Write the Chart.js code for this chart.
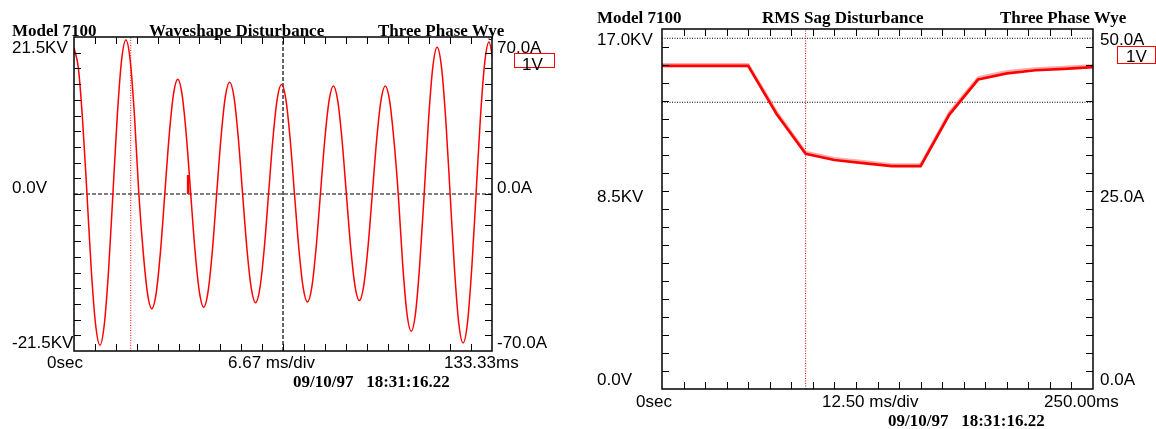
<!DOCTYPE html>
<html>
<head>
<meta charset="utf-8">
<script src="https://cdn.jsdelivr.net/npm/chart.js@4.4.0/dist/chart.umd.min.js"></script>
<style>
  html, body { margin: 0; padding: 0; background: #fff; }
  #page { position: relative; width: 1156px; height: 429px; overflow: hidden; }
  .pane { position: absolute; top: 0; }
  .t { position: absolute; white-space: pre; line-height: 18px; color: #000; }
  .hd { font: bold 17px "Liberation Serif", "Times New Roman", serif; }
  .lb { font: 17px "Liberation Sans", Arial, sans-serif; }
  .box { position: absolute; border: 1.5px solid #f00; box-sizing: border-box; }
</style>
</head>
<body>
<div id="page">
  <canvas id="wave" class="pane" width="578" height="429" style="left:0"></canvas>
  <canvas id="sag" class="pane" width="578" height="429" style="left:578px"></canvas>
  <div class="box" style="left:514px; top:53px; width:41px; height:15px"></div>
  <div class="box" style="left:1117px; top:46px; width:39px; height:18px"></div>
</div>
<script>
// ============================================================
// Model 7100 — waveshape + RMS sag disturbance plots
// ============================================================

// ---- waveshape disturbance (left) ----
const waveHeader = ['Model 7100', 'Waveshape Disturbance', 'Three Phase Wye'];
const waveVoltLabels = ['21.5KV', '0.0V', '-21.5KV'];
const waveAmpLabels = ['70.0A', '0.0A', '-70.0A'];
const waveTimeLabels = ['0sec', '6.67 ms/div', '133.33ms'];
const waveStamp = '09/10/97   18:31:16.22';
const waveSpanMs = [0, 133.33];
const waveSpanKV = [-21.5, 21.5];
const waveSampleMs = 1.379;     // one sample every 30 degrees
const waveKV = [
  20.0, 17.3, 10.0, 0, -10.4, -17.9, -20.7,
  -17.9, -10.4, 0, 10.6, 18.3, 21.1,
  18.3, 10.6, 0, -7.9, -13.6, -15.7,
  -13.6, -7.9, 0, 7.9, 13.6, 15.7,
  13.6, 7.9, 0, -7.8, -13.4, -15.5,
  -13.4, -7.8, 0, 7.7, 13.3, 15.3,
  13.3, 7.7, 0, -7.5, -12.9, -14.9,
  -12.9, -7.5, 0, 7.5, 13.0, 15.0,
  13.0, 7.5, 0, -7.4, -12.8, -14.8,
  -12.8, -7.4, 0, 7.4, 12.8, 14.8,
  12.8, 7.4, 0, -7.3, -12.6, -14.6,
  -12.6, -7.3, 0, 7.4, 12.8, 14.8,
  12.8, 7.4, 0, -9.4, -16.3, -18.8,
  -16.3, -9.4, 0, 10.1, 17.4, 20.1,
  17.4, 10.1, 0, -10.2, -17.7, -20.4,
  -17.7, -10.2, 0, 10.4, 18.0, 20.8,
  18.0
];
const spikeMs = [36.4, 36.4];
const spikeKV = [0, 2.6];
const waveRedCursorMs = 18.1;
const waveBlackCursorMs = 66.67;

// ---- RMS sag disturbance (right) ----
const sagHeader = ['Model 7100', 'RMS Sag Disturbance', 'Three Phase Wye'];
const sagVoltLabels = ['17.0KV', '8.5KV', '0.0V'];
const sagAmpLabels = ['50.0A', '25.0A', '0.0A'];
const sagTimeLabels = ['0sec', '12.50 ms/div', '250.00ms'];
const sagStamp = '09/10/97   18:31:16.22';
const sagSpanMs = [0, 250];
const sagSpanKV = [0, 17.45];
const sagMs = [0, 16.67, 33.33, 50, 66.67, 83.33, 100, 116.67, 133.33, 150, 166.67, 183.33, 200, 216.67, 233.33, 250];
const sagKV = [15.66, 15.66, 15.66, 15.66, 13.3, 11.4, 11.1, 10.95, 10.8, 10.8, 13.3, 15.0, 15.3, 15.45, 15.52, 15.6];
const sagKV2 = [15.75, 15.75, 15.75, 15.75, 13.44, 11.5, 11.2, 11.05, 10.9, 10.9, 13.44, 15.12, 15.41, 15.55, 15.62, 15.7];
const sagLimitsKV = [17.0, 13.9];
const sagRedCursorMs = 83.3;

// ---- text ----
function addText(text, left, top, cls) {
    const d = document.createElement('div');
    d.className = 't ' + cls;
    d.textContent = text;
    d.style.left = left + 'px';
    d.style.top = top + 'px';
    document.getElementById('page').appendChild(d);
}

addText(waveHeader[0], 12, 21, 'hd');
addText(waveHeader[1], 149, 21, 'hd');
addText(waveHeader[2], 378, 21, 'hd');
addText(waveVoltLabels[0], 12, 38, 'lb');
addText(waveVoltLabels[1], 12, 178, 'lb');
addText(waveVoltLabels[2], 12, 333, 'lb');
addText(waveAmpLabels[0], 497, 38, 'lb');
addText(waveAmpLabels[1], 497, 178, 'lb');
addText(waveAmpLabels[2], 497, 333, 'lb');
addText('1V', 522, 55, 'lb');
addText(waveTimeLabels[0], 47, 353, 'lb');
addText(waveTimeLabels[1], 228, 353, 'lb');
addText(waveTimeLabels[2], 444, 353, 'lb');
addText(waveStamp, 293, 372, 'hd');

addText(sagHeader[0], 597, 8, 'hd');
addText(sagHeader[1], 762, 8, 'hd');
addText(sagHeader[2], 1000, 8, 'hd');
addText(sagVoltLabels[0], 597, 30, 'lb');
addText(sagVoltLabels[1], 597, 187, 'lb');
addText(sagVoltLabels[2], 597, 370, 'lb');
addText(sagAmpLabels[0], 1100, 30, 'lb');
addText(sagAmpLabels[1], 1100, 187, 'lb');
addText(sagAmpLabels[2], 1100, 370, 'lb');
addText('1V', 1126, 47, 'lb');
addText(sagTimeLabels[0], 636, 392, 'lb');
addText(sagTimeLabels[1], 822, 392, 'lb');
addText(sagTimeLabels[2], 1044, 392, 'lb');
addText(sagStamp, 888, 411, 'hd');

// ---- frame with inward division ticks ----
const framePlugin = {
    id: 'frame',
    afterDatasetsDraw(chart, args, opts) {
        const { ctx, chartArea: a, scales: { x, y } } = chart;
        const n = opts.divisions, tl = opts.tick;
        ctx.save();
        ctx.strokeStyle = '#000';
        ctx.lineWidth = 1;
        ctx.beginPath();
        for (let i = 1; i < n; i++) {
            const px = Math.round(x.getPixelForValue(x.min + (x.max - x.min) * i / n)) + 0.5;
            ctx.moveTo(px, a.top); ctx.lineTo(px, a.top + tl);
            ctx.moveTo(px, a.bottom); ctx.lineTo(px, a.bottom - tl);
            const py = Math.round(y.getPixelForValue(y.min + (y.max - y.min) * i / n)) + 0.5;
            ctx.moveTo(a.left, py); ctx.lineTo(a.left + tl, py);
            ctx.moveTo(a.right, py); ctx.lineTo(a.right - tl, py);
        }
        ctx.stroke();
        ctx.lineWidth = 1.5;
        ctx.strokeRect(a.left, a.top, a.right - a.left, a.bottom - a.top);
        ctx.restore();
    }
};

function seg(xs, ys) {
    return xs.map((v, i) => ({ x: v, y: ys[i] }));
}

function baseOptions(padding, spanX, spanY) {
    return {
        responsive: false,
        animation: false,
        layout: { padding },
        plugins: {
            legend: { display: false },
            tooltip: { enabled: false },
            frame: { divisions: 20, tick: 7 },
        },
        elements: { point: { radius: 0 } },
        scales: {
            x: { type: 'linear', display: false, min: spanX[0], max: spanX[1] },
            y: { type: 'linear', display: false, min: spanY[0], max: spanY[1] },
        }
    };
}

// Waveshape
new Chart(document.getElementById('wave'), {
    type: 'line',
    data: {
        datasets: [
            {
                data: waveKV.map((v, i) => ({ x: i * waveSampleMs, y: v })),
                borderColor: '#ff0000', borderWidth: 1.5,
                cubicInterpolationMode: 'monotone', order: 0,
            },
            {
                data: seg(spikeMs, spikeKV),
                borderColor: '#ff0000', borderWidth: 2.5, order: 0,
            },
            {
                data: seg(waveSpanMs, [0, 0]),
                borderColor: '#000', borderWidth: 1.2, borderDash: [4, 2], order: 2,
            },
            {
                data: seg([waveBlackCursorMs, waveBlackCursorMs], waveSpanKV),
                borderColor: '#000', borderWidth: 1.2, borderDash: [4, 2], order: 2,
            },
            {
                data: seg([waveRedCursorMs, waveRedCursorMs], waveSpanKV),
                borderColor: '#ff0000', borderWidth: 1, borderDash: [1, 1.5], order: 2,
            },
        ]
    },
    options: baseOptions({ left: 74, top: 37, right: 86, bottom: 78 }, waveSpanMs, waveSpanKV),
    plugins: [framePlugin]
});

// RMS sag
new Chart(document.getElementById('sag'), {
    type: 'line',
    data: {
        datasets: [
            {
                data: seg(sagMs, sagKV),
                borderColor: '#ff0000', borderWidth: 2.7, tension: 0, order: 0,
            },
            {
                data: seg(sagMs, sagKV2),
                borderColor: 'rgba(255,150,150,0.8)', borderWidth: 2, tension: 0, order: 1,
            },
            {
                data: seg(sagSpanMs, [sagLimitsKV[0], sagLimitsKV[0]]),
                borderColor: '#000', borderWidth: 1, borderDash: [1, 1.5], order: 2,
            },
            {
                data: seg(sagSpanMs, [sagLimitsKV[1], sagLimitsKV[1]]),
                borderColor: '#000', borderWidth: 1, borderDash: [1, 1.5], order: 2,
            },
            {
                data: seg([sagRedCursorMs, sagRedCursorMs], sagSpanKV),
                borderColor: '#ff0000', borderWidth: 1, borderDash: [1, 1.5], order: 2,
            },
        ]
    },
    options: baseOptions({ left: 84, top: 29, right: 63, bottom: 40 }, sagSpanMs, sagSpanKV),
    plugins: [framePlugin]
});
</script>
</body>
</html>
